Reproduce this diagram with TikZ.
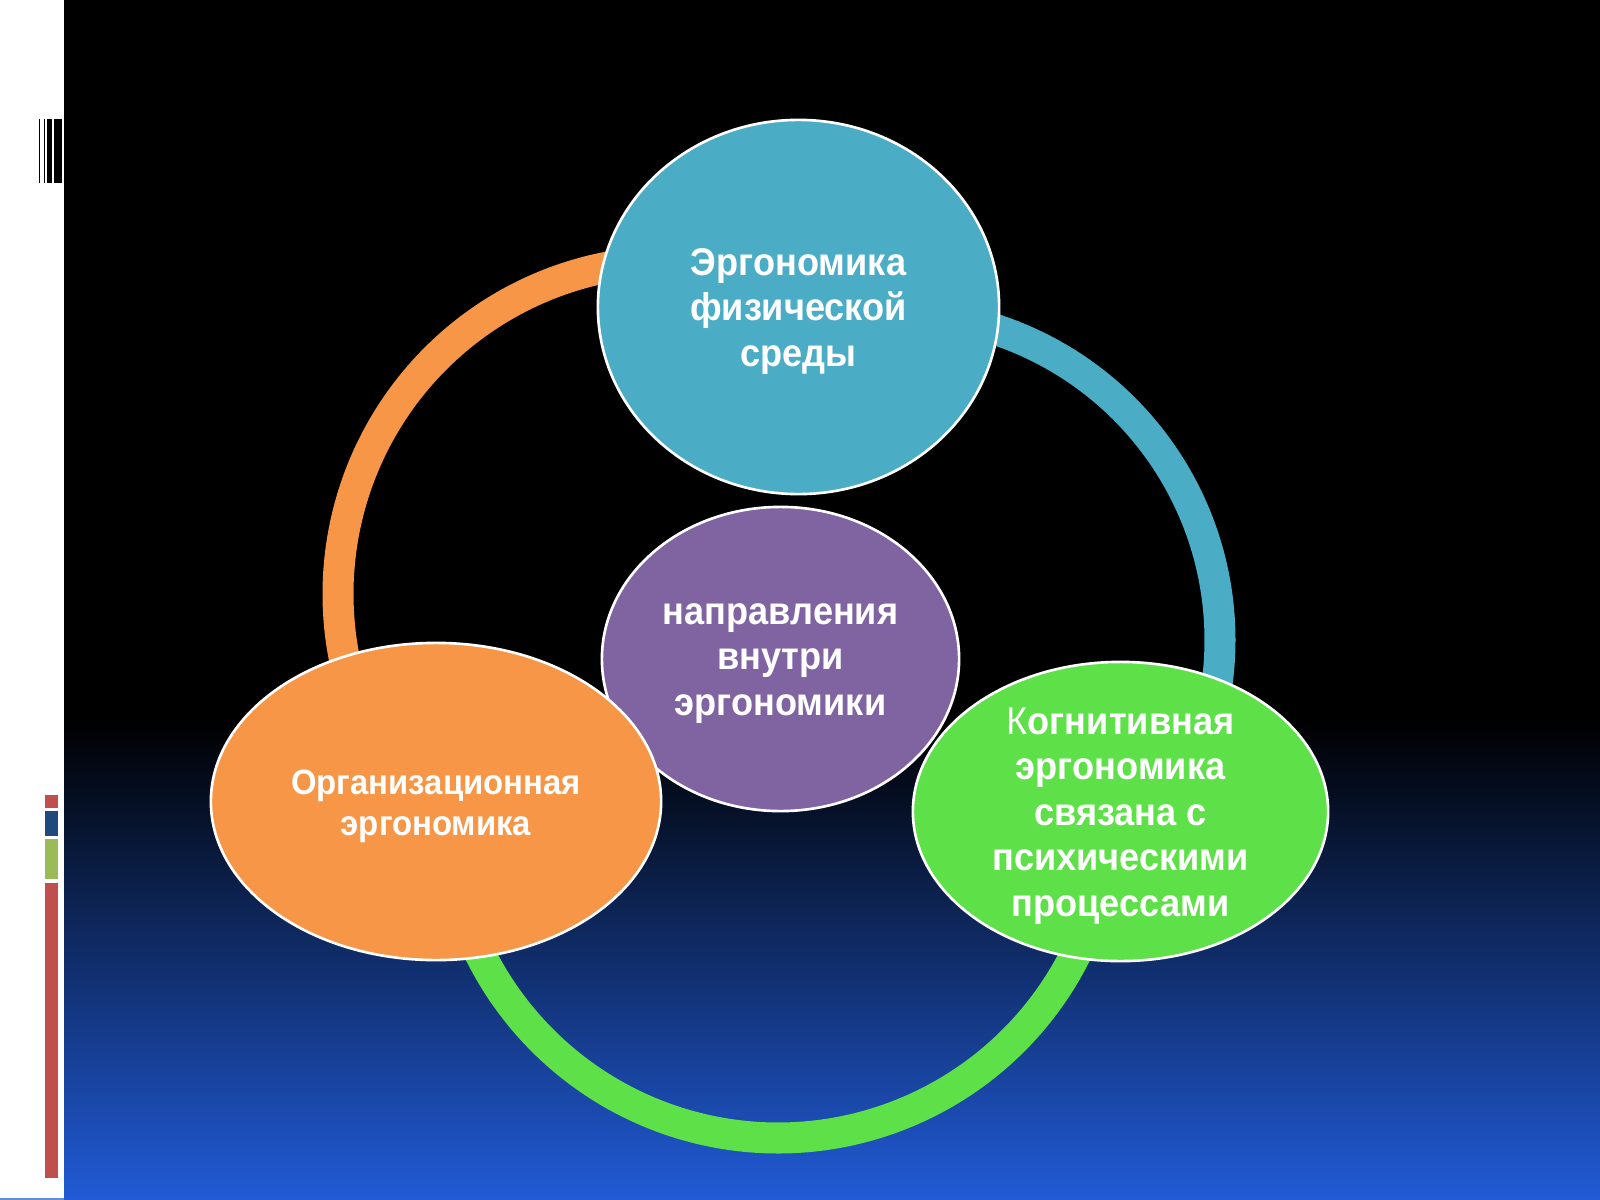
\documentclass[tikz,border=0pt]{standalone}
\usepackage{fontspec}
\setmainfont{Liberation Sans}[FakeStretch=0.935]
\usetikzlibrary{shapes.geometric}
\definecolor{bgblue}{RGB}{33,91,214}
\definecolor{physblue}{HTML}{4BACC6}
\definecolor{midpurple}{HTML}{8064A2}
\definecolor{orgorange}{HTML}{F79646}
\definecolor{coggreen}{RGB}{94,224,72}
\definecolor{barred}{HTML}{C0504D}
\definecolor{barblue}{HTML}{1F497D}
\definecolor{bargreen}{HTML}{9BBB59}
\begin{document}
\begin{tikzpicture}[x=0.01cm, y=-0.01cm,
  blob/.style={ellipse, draw=white, line width=0.75pt, inner sep=0pt},
  lbl/.style={text=white, font=\bfseries\fontsize{11}{12.9}\selectfont, align=center, inner sep=0pt, yshift=-0.045cm},
  ring/.style={line width=0.31cm}]
\useasboundingbox (0,0) rectangle (1600,1200);
% background
\fill[white] (0,0) rectangle (1600,1200);
\fill[black] (64,0) rectangle (1600,721);
\shade[top color=black, bottom color=bgblue] (64,720) rectangle (1600,1200);
\fill[bgblue!70!white] (0,1198) rectangle (64,1200);
% decorative bars
\fill[black] (39,119) rectangle (40.4,183);
\fill[black] (43.5,119) rectangle (44.8,183);
\fill[black] (47,119) rectangle (52,183);
\fill[black] (54,119) rectangle (62,183);
\fill[barred] (45,795) rectangle (58,808);
\fill[barblue] (45,811) rectangle (58,836);
\fill[bargreen] (45,839) rectangle (58,879);
\fill[barred] (45,883) rectangle (58,1178);
% arcs
\draw[ring, orgorange] plot[domain=165:266, samples=90, smooth] ({671+333*cos(\x)},{594+333*sin(\x)});
\draw[ring, physblue] plot[domain=283:375, samples=90, smooth] ({893+327*cos(\x)},{640+327*sin(\x)});
\draw[ring, coggreen] plot[domain=20:160, samples=120, smooth] ({778+333*cos(\x)},{805+333*sin(\x)});
% nodes
\node[blob, fill=physblue, minimum width=4.01cm, minimum height=3.74cm] (phys) at (798.5,307) {};
\node[lbl] (physT) at (phys.center) {Эргономика\\физической\\среды};
\node[blob, fill=midpurple, minimum width=3.57cm, minimum height=3.04cm] (dir) at (780.5,659) {};
\node[lbl] (dirT) at (dir.center) {направления\\внутри\\эргономики};
\node[blob, fill=orgorange, minimum width=4.50cm, minimum height=3.17cm] (org) at (436,801.5) {};
\node[lbl, font=\bfseries\fontsize{10}{11.6}\selectfont] (orgT) at (org.center) {Организационная\\эргономика};
\node[blob, fill=coggreen, minimum width=4.15cm, minimum height=2.99cm] (cog) at (1120.5,811.5) {};
\node[lbl] (cogT) at (cog.center) {{\mdseries К}огнитивная\\эргономика\\связана с\\психическими\\процессами};
\end{tikzpicture}
\end{document}
